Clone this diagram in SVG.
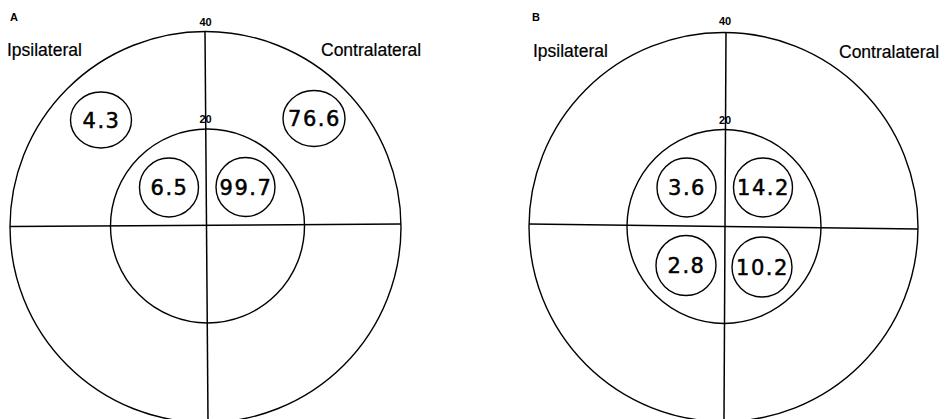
<svg xmlns="http://www.w3.org/2000/svg" width="945" height="419" viewBox="0 0 945 419">
  <style>
    .bg { fill: #ffffff; }
    .ring { fill: none; stroke: #000; stroke-width: 1.4; }
    .axis { fill: none; stroke: #000; stroke-width: 1.5; }
    .cell { fill: #fff; stroke: #000; stroke-width: 1.4; }
    .val { font-family: "DejaVu Sans", Verdana, sans-serif; font-size: 21px; fill: #000; stroke: #000; stroke-width: 0.5; text-anchor: middle; letter-spacing: 1.5px; }
    .side { font-family: "Liberation Sans", Arial, sans-serif; font-size: 17.5px; fill: #000; stroke: #000; stroke-width: 0.2; }
    .tick { font-family: "Liberation Sans", Arial, sans-serif; font-size: 11px; font-weight: bold; fill: #000; text-anchor: middle; }
    .panel { font-family: "Liberation Sans", Arial, sans-serif; font-size: 11px; font-weight: bold; fill: #000; }
  </style>
  <rect class="bg" x="0" y="0" width="945" height="419"/>

  <!-- Panel A: polar field chart -->
  <g id="panelA">
    <g id="gridA">
      <circle class="ring" cx="205.5" cy="227" r="195.5"/>
      <circle class="ring" cx="207.5" cy="226" r="97"/>
    </g>
    <g id="axesA">
      <line class="axis" x1="205" y1="32" x2="208" y2="419"/>
      <line class="axis" x1="10" y1="226.5" x2="401" y2="224"/>
    </g>
    <text class="panel" x="10" y="21">A</text>
    <text class="tick" x="205.5" y="25.5">40</text>
    <text class="tick" x="205.5" y="123">20</text>
    <text class="side" x="7" y="56">Ipsilateral</text>
    <text class="side" x="321" y="56">Contralateral</text>
    <g id="a-ipsi-outer">
      <ellipse class="cell" cx="101" cy="120" rx="30.5" ry="28"/>
      <text class="val" x="101.5" y="127.5">4.3</text>
    </g>
    <g id="a-contra-outer">
      <ellipse class="cell" cx="314" cy="118.5" rx="31" ry="28"/>
      <text class="val" x="314.5" y="126">76.6</text>
    </g>
    <g id="a-ipsi-inner">
      <circle class="cell" cx="169" cy="187.5" r="29.5"/>
      <text class="val" x="169.5" y="195">6.5</text>
    </g>
    <g id="a-contra-inner">
      <circle class="cell" cx="245.5" cy="187" r="29.5"/>
      <text class="val" x="246" y="194.5">99.7</text>
    </g>
  </g>

  <!-- Panel B: polar field chart -->
  <g id="panelB">
    <g id="gridB">
      <circle class="ring" cx="723.5" cy="227" r="194.5"/>
      <circle class="ring" cx="724" cy="226.5" r="97"/>
    </g>
    <g id="axesB">
      <line class="axis" x1="726" y1="32" x2="724" y2="419"/>
      <line class="axis" x1="529" y1="224" x2="918" y2="229"/>
    </g>
    <text class="panel" x="532" y="21">B</text>
    <text class="tick" x="725" y="25">40</text>
    <text class="tick" x="725" y="124">20</text>
    <text class="side" x="533" y="56.5">Ipsilateral</text>
    <text class="side" x="839" y="58">Contralateral</text>
    <g id="b-ipsi-upper">
      <circle class="cell" cx="686.5" cy="187.5" r="29.5"/>
      <text class="val" x="687" y="195">3.6</text>
    </g>
    <g id="b-contra-upper">
      <circle class="cell" cx="763" cy="187.5" r="29.5"/>
      <text class="val" x="763.5" y="195">14.2</text>
    </g>
    <g id="b-ipsi-lower">
      <circle class="cell" cx="686" cy="265.5" r="30"/>
      <text class="val" x="686.5" y="273">2.8</text>
    </g>
    <g id="b-contra-lower">
      <circle class="cell" cx="762" cy="267" r="30"/>
      <text class="val" x="762.5" y="274.5">10.2</text>
    </g>
  </g>
</svg>
